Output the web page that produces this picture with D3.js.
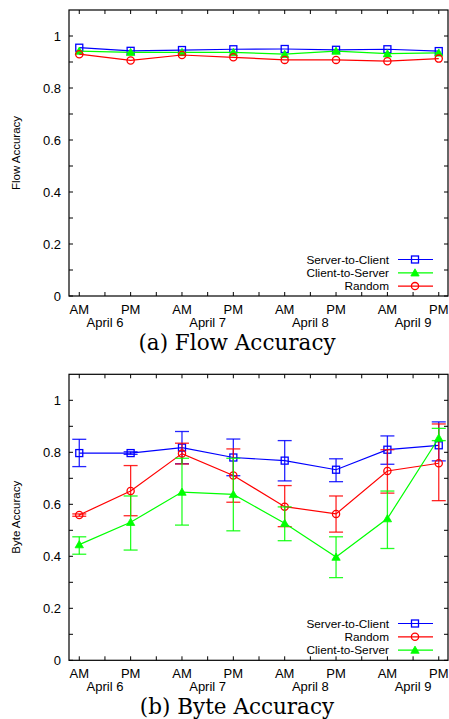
<!DOCTYPE html>
<html><head><meta charset="utf-8">
<script src="https://cdn.jsdelivr.net/npm/d3@7"></script>
<style>body{margin:0;background:#fff}svg{display:block}</style>
</head><body>
<svg id="c" width="449" height="719"></svg>
<script>
const periods = ["AM","PM","AM","PM","AM","PM","AM","PM"];
const days = ["April 6","April 7","April 8","April 9"];
const yTicks = [0,0.2,0.4,0.6,0.8,1];

const flowS2C = [0.955,0.943,0.946,0.949,0.950,0.947,0.949,0.942];
const flowC2S = [0.942,0.937,0.937,0.937,0.930,0.942,0.932,0.935];
const flowRandom = [0.930,0.906,0.927,0.918,0.908,0.908,0.903,0.913];

const byteS2C = [0.797,0.797,0.818,0.780,0.768,0.733,0.810,0.827];
const byteS2CLo = [0.745,0.792,0.756,0.710,0.690,0.687,0.754,0.767];
const byteS2CHi = [0.850,0.802,0.880,0.851,0.845,0.775,0.863,0.917];
const byteRandom = [0.559,0.651,0.795,0.711,0.591,0.563,0.728,0.758];
const byteRandomLo = [0.554,0.556,0.755,0.608,0.514,0.493,0.643,0.614];
const byteRandomHi = [0.563,0.749,0.835,0.813,0.672,0.632,0.810,0.909];
const byteC2S = [0.445,0.531,0.647,0.638,0.527,0.397,0.545,0.855];
const byteC2SLo = [0.408,0.424,0.520,0.498,0.460,0.318,0.430,0.845];
const byteC2SHi = [0.475,0.632,0.777,0.777,0.590,0.475,0.651,0.892];

const svg = d3.select("#c");
const x = d3.scaleLinear().domain([-0.2,7.18]).range([69,448]);
const colors = {blue:"#0000ff", red:"#ff0000", green:"#00ff00"};

function marker(g, type, cx, cy, color){
  if(type==="square") g.append("rect").attr("x",cx-3.5).attr("y",cy-3.5).attr("width",7).attr("height",7).attr("fill","none").attr("stroke",color).attr("stroke-width",1.3);
  else if(type==="circle") g.append("circle").attr("cx",cx).attr("cy",cy).attr("r",3.6).attr("fill","none").attr("stroke",color).attr("stroke-width",1.3);
  else g.append("path").attr("d",d3.symbol(d3.symbolTriangle,30)()).attr("transform",`translate(${cx},${cy+0.8})`).attr("fill",color).attr("stroke",color).attr("stroke-width",0.8);
}

function panel(top, bottom, series, ylabel, caption, legendY){
  const y = d3.scaleLinear().domain([0,1.1]).range([bottom, top]);
  const g = svg.append("g");
  const tk = g.append("g").attr("stroke","#000").attr("stroke-width",1);
  d3.range(0,11).map(i=>i/10).forEach(v=>{
    const len = 4;
    tk.append("line").attr("x1",69).attr("x2",69+len).attr("y1",y(v)).attr("y2",y(v));
    tk.append("line").attr("x1",448).attr("x2",448-len).attr("y1",y(v)).attr("y2",y(v));
  });
  d3.range(0,15).map(i=>i/2).forEach(v=>{
    tk.append("line").attr("x1",x(v)).attr("x2",x(v)).attr("y1",bottom).attr("y2",bottom-4);
    tk.append("line").attr("x1",x(v)).attr("x2",x(v)).attr("y1",top).attr("y2",top+4);
  });
  yTicks.forEach(v=>{
    g.append("text").attr("x",61).attr("y",y(v)+4.6).attr("text-anchor","end")
      .attr("font-family","Liberation Sans, Arial, sans-serif").attr("font-size",13)
      .text(v===0?"0":(v===1?"1":d3.format(".1f")(v)));
  });
  periods.forEach((p,i)=>{
    g.append("text").attr("x",x(i)).attr("y",bottom+17.5).attr("text-anchor","middle")
      .attr("font-family","Liberation Sans, Arial, sans-serif").attr("font-size",13).text(p);
  });
  days.forEach((d,i)=>{
    g.append("text").attr("x",x(i*2+0.5)).attr("y",bottom+30.8).attr("text-anchor","middle")
      .attr("font-family","Liberation Sans, Arial, sans-serif").attr("font-size",13).text(d);
  });
  g.append("text").attr("transform",`translate(20,${(top+bottom)/2}) rotate(-90)`).attr("text-anchor","middle")
    .attr("font-family","Liberation Sans, Arial, sans-serif").attr("font-size",11.5).text(ylabel);
  g.append("text").attr("x",237).attr("y",bottom+54).attr("text-anchor","middle")
    .attr("font-family","DejaVu Serif, serif").attr("font-size",21.5).text(caption);

  series.forEach(s=>{
    const sg = g.append("g");
    if(s.lo){
      s.values.forEach((v,i)=>{
        const cx = x(i);
        sg.append("line").attr("x1",cx).attr("x2",cx).attr("y1",y(s.lo[i])).attr("y2",y(s.hi[i])).attr("stroke",s.color).attr("stroke-width",1.3).attr("opacity",0.85);
        [s.lo[i],s.hi[i]].forEach(e=>{
          sg.append("line").attr("x1",cx-7).attr("x2",cx+7).attr("y1",y(e)).attr("y2",y(e)).attr("stroke",s.color).attr("stroke-width",1.3).attr("opacity",0.85);
        });
      });
    }
    sg.append("path").datum(s.values).attr("fill","none").attr("stroke",s.color).attr("stroke-width",1.2)
      .attr("d",d3.line().x((d,i)=>x(i)).y(d=>y(d)));
    s.values.forEach((v,i)=>marker(sg,s.marker,x(i),y(v),s.color));
  });

  g.append("rect").attr("x",69).attr("y",top).attr("width",379).attr("height",bottom-top)
    .attr("fill","none").attr("stroke","#000").attr("stroke-width",1.2);

  series.forEach((s,k)=>{
    const ly = legendY + k*13.3;
    g.append("text").attr("x",389).attr("y",ly+4.2).attr("text-anchor","end")
      .attr("font-family","Liberation Sans, Arial, sans-serif").attr("font-size",11.8).text(s.name);
    g.append("line").attr("x1",398).attr("x2",433).attr("y1",ly).attr("y2",ly).attr("stroke",s.color).attr("stroke-width",1.2);
    marker(g,s.marker,415,ly,s.color);
  });
}

panel(10, 296, [
  {name:"Server-to-Client", values:flowS2C, color:colors.blue, marker:"square"},
  {name:"Client-to-Server", values:flowC2S, color:colors.green, marker:"triangle"},
  {name:"Random", values:flowRandom, color:colors.red, marker:"circle"}
], "Flow Accuracy", "(a) Flow Accuracy", 259.5);

panel(374.3, 660.3, [
  {name:"Server-to-Client", values:byteS2C, lo:byteS2CLo, hi:byteS2CHi, color:colors.blue, marker:"square"},
  {name:"Random", values:byteRandom, lo:byteRandomLo, hi:byteRandomHi, color:colors.red, marker:"circle"},
  {name:"Client-to-Server", values:byteC2S, lo:byteC2SLo, hi:byteC2SHi, color:colors.green, marker:"triangle"}
], "Byte Accuracy", "(b) Byte Accuracy", 623.5);
</script>
</body></html>
